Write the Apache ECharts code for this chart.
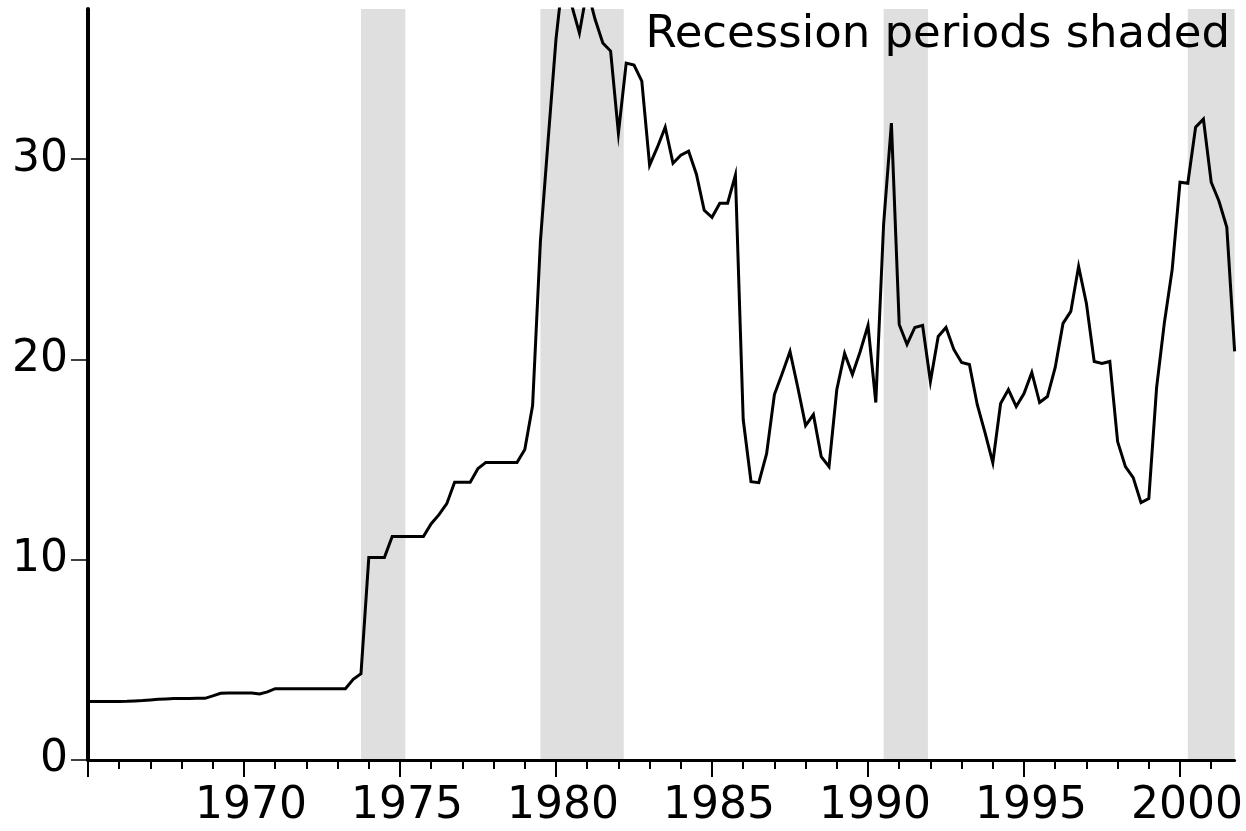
<!DOCTYPE html>
<html>
<head>
<meta charset="utf-8">
<script src="https://cdn.jsdelivr.net/npm/echarts@6/dist/echarts.min.js"></script>
<style>
html,body{margin:0;padding:0;background:#fff;}
#chart{width:1246px;height:831px;}
</style>
</head>
<body>
<div id="chart"></div>
<script>
// Quarterly series, first observation 1965Q1
const startYear = 1965;
const periodsPerYear = 4;
const prices = [
  2.92, 2.92, 2.92, 2.92,   // 1965
  2.92, 2.93, 2.95, 2.97,   // 1966
  3.00, 3.03, 3.05, 3.07,   // 1967
  3.07, 3.07, 3.08, 3.08,   // 1968
  3.20, 3.33, 3.35, 3.35,   // 1969
  3.35, 3.35, 3.30, 3.40,   // 1970
  3.56, 3.56, 3.56, 3.56,   // 1971
  3.56, 3.56, 3.56, 3.56,   // 1972
  3.56, 3.56, 4.03, 4.31,   // 1973
  10.11, 10.11, 10.11, 11.16, // 1974
  11.16, 11.16, 11.16, 11.16, // 1975
  11.80, 12.25, 12.80, 13.87, // 1976
  13.87, 13.87, 14.55, 14.86, // 1977
  14.85, 14.85, 14.85, 14.85, // 1978
  15.50, 17.70, 25.90, 31.00, // 1979
  36.00, 39.50, 37.70, 36.30, // 1980
  38.50, 37.00, 35.80, 35.40, // 1981
  31.30, 34.80, 34.70, 33.90, // 1982
  29.70, 30.60, 31.60, 29.80, // 1983
  30.20, 30.40, 29.25, 27.45, // 1984
  27.10, 27.80, 27.80, 29.20, // 1985
  17.00, 13.90, 13.85, 15.30, // 1986
  18.25, 19.30, 20.40, 18.60, // 1987
  16.70, 17.25, 15.15, 14.65, // 1988
  18.50, 20.30, 19.25, 20.40, // 1989
  21.70, 17.85, 26.75, 31.80, // 1990
  21.75, 20.75, 21.60, 21.70, // 1991
  18.90, 21.15, 21.60, 20.50, // 1992
  19.85, 19.75, 17.75, 16.35, // 1993
  14.85, 17.80, 18.50, 17.65, // 1994
  18.30, 19.35, 17.85, 18.15, // 1995
  19.60, 21.80, 22.40, 24.65, // 1996
  22.80, 19.90, 19.80, 19.90, // 1997
  15.90, 14.65, 14.10, 12.85, // 1998
  13.05, 18.60, 21.85, 24.50, // 1999
  28.85, 28.80, 31.60, 32.00, // 2000
  28.85, 27.90, 26.60, 20.40  // 2001
];
// Recession periods (start, end) in fractional years
const recessions = [
  [1973.75, 1975.17],
  [1979.50, 1982.17],
  [1990.50, 1991.92],
  [2000.25, 2001.75]
];
const xMin = 1965, xMax = 2001.75;
const yMin = 0, yMax = 37.5;
const yTicks = [0, 10, 20, 30];
const xMajorTicks = [1965, 1970, 1975, 1980, 1985, 1990, 1995, 2000];
const xLabels = [1970, 1975, 1980, 1985, 1990, 1995, 2000];
const xMinorTicks = [];
for (let y = 1966; y <= 2001; y++) xMinorTicks.push(y);
const noteText = 'Recession periods shaded';

const FONT = '"DejaVu Sans", "Liberation Sans", sans-serif';
const seriesData = prices.map((v, i) => [startYear + i / periodsPerYear, v]);

const chart = echarts.init(document.getElementById('chart'), null, {renderer: 'canvas'});
chart.setOption({
  animation: false,
  backgroundColor: '#ffffff',
  grid: {left: 88, top: 9, right: 11, bottom: 71, containLabel: false},
  xAxis: [
    {
      type: 'value', min: xMin, max: xMax, position: 'bottom', z: 5,
      splitLine: {show: false},
      axisLine: {show: true, lineStyle: {color: '#000', width: 3}},
      axisTick: {show: true, customValues: xMajorTicks, length: 17, lineStyle: {color: '#000', width: 2}},
      axisLabel: {show: true, customValues: xLabels, margin: 25, color: '#000',
        fontFamily: FONT, fontSize: 44, padding: [0, 0, 0, 14],
        formatter: v => String(v)}
    },
    {
      type: 'value', min: xMin, max: xMax, position: 'bottom', z: 5,
      splitLine: {show: false},
      axisLine: {show: false},
      axisTick: {show: true, customValues: xMinorTicks, length: 9, lineStyle: {color: '#000', width: 2}},
      axisLabel: {show: false}
    }
  ],
  yAxis: {
    type: 'value', min: yMin, max: yMax, z: 5,
    splitLine: {show: false},
    axisLine: {show: true, lineStyle: {color: '#000', width: 4}},
    axisTick: {show: true, customValues: yTicks, length: 17, lineStyle: {color: '#000', width: 1.5}},
    axisLabel: {show: true, customValues: yTicks, margin: 20, color: '#000',
      fontFamily: FONT, fontSize: 44, padding: [0, 0, 8, 0],
      formatter: v => String(v)}
  },
  graphic: [{
    type: 'text', right: 16, top: 13, z: 10,
    style: {text: noteText, fill: '#000', font: '45px ' + FONT}
  }],
  series: [
    {
      type: 'line', xAxisIndex: 0, data: [], z: 1, silent: true,
      markArea: {
        silent: true,
        itemStyle: {color: '#dfdfdf'},
        label: {show: false},
        data: recessions.map(r => [{xAxis: r[0]}, {xAxis: r[1]}])
      }
    },
    {
      type: 'line', xAxisIndex: 0, data: seriesData, z: 3,
      showSymbol: false, symbol: 'none', clip: true,
      lineStyle: {color: '#000', width: 3, join: 'miter'}
    }
  ]
});
</script>
</body>
</html>
